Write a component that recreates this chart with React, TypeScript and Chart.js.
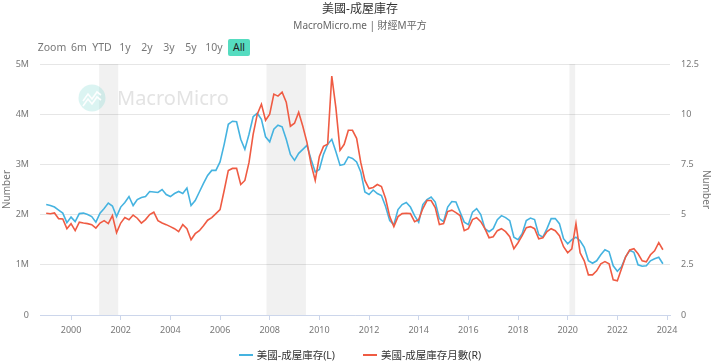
import React, { useEffect, useRef } from 'react';
import { Chart, registerables } from 'chart.js';

Chart.register(...registerables);

// Bimonthly observations starting Jan 1999 (Jan, Mar, May, Jul, Sep, Nov)
const START_YEAR = 1999;
const STEP_MONTHS = 2;

// 美國-成屋庫存 (millions of homes), left axis
const inventoryM: number[] = [
  2.20, 2.18, 2.15, 2.09, 2.03, 1.84,
  1.95, 1.86, 2.02, 2.03, 2.00, 1.96,
  1.85, 2.03, 2.12, 2.23, 2.17, 1.96,
  2.15, 2.24, 2.36, 2.18, 2.30, 2.34,
  2.36, 2.46, 2.45, 2.44, 2.50, 2.40,
  2.36, 2.42, 2.46, 2.42, 2.53, 2.18,
  2.28, 2.45, 2.62, 2.78, 2.88, 2.88,
  3.05, 3.40, 3.80, 3.86, 3.85, 3.50,
  3.30, 3.60, 3.95, 4.02, 3.90, 3.55,
  3.45, 3.70, 3.78, 3.75, 3.50, 3.20,
  3.08, 3.22, 3.30, 3.38, 3.10, 2.85,
  2.90, 3.20, 3.40, 3.50, 3.25, 2.98,
  3.00, 3.15, 3.12, 3.05, 2.85, 2.45,
  2.40, 2.49, 2.42, 2.38, 2.16, 1.88,
  1.80, 2.10, 2.20, 2.24, 2.15, 1.98,
  1.85, 2.20, 2.30, 2.35, 2.25, 1.92,
  1.86, 2.15, 2.26, 2.25, 2.05, 1.85,
  1.80, 2.05, 2.12, 2.00, 1.72, 1.66,
  1.72, 1.90, 1.98, 1.94, 1.88, 1.55,
  1.50, 1.62, 1.88, 1.93, 1.90, 1.60,
  1.55, 1.72, 1.92, 1.92, 1.82, 1.52,
  1.42, 1.50, 1.55, 1.48, 1.35, 1.08,
  1.03, 1.08, 1.20, 1.30, 1.26, 0.98,
  0.87, 0.96, 1.16, 1.29, 1.25, 1.00,
  0.97, 0.98, 1.08, 1.12, 1.15, 1.02,
];

// 美國-成屋庫存月數 (months of supply), right axis
const monthsSupply: number[] = [
  5.07, 5.04, 5.08, 4.80, 4.78, 4.30,
  4.55, 4.20, 4.62, 4.58, 4.55, 4.50,
  4.33, 4.58, 4.70, 4.55, 4.95, 4.10,
  4.58, 4.85, 4.74, 4.98, 4.82, 4.58,
  4.75, 5.00, 5.12, 4.70, 4.58, 4.50,
  4.40, 4.30, 4.15, 4.50, 4.30, 3.75,
  4.05, 4.20, 4.45, 4.72, 4.85, 5.05,
  5.25, 6.20, 7.20, 7.30, 7.30, 6.50,
  6.70, 7.60, 9.00, 10.00, 10.50, 9.70,
  10.00, 11.00, 10.90, 11.10, 10.60, 9.40,
  9.55, 10.10, 9.40, 8.60, 7.50, 6.70,
  7.90, 8.40, 8.50, 11.90, 10.30, 8.20,
  8.50, 9.20, 9.20, 8.80, 7.60, 6.70,
  6.30, 6.35, 6.50, 6.40, 5.80, 4.90,
  4.40, 4.90, 5.05, 5.07, 5.05, 4.65,
  4.75, 5.30, 5.70, 5.70, 5.35, 4.50,
  4.55, 5.15, 5.22, 5.10, 4.95, 4.20,
  4.30, 4.75, 4.85, 4.65, 4.30, 3.85,
  3.90, 4.20, 4.30, 4.15, 3.90, 3.30,
  3.60, 3.95, 4.35, 4.40, 4.30, 3.80,
  3.85, 4.15, 4.30, 4.20, 3.95, 3.40,
  3.10, 3.30, 4.55, 3.10, 2.70, 2.00,
  2.00, 2.20, 2.55, 2.66, 2.55, 1.75,
  1.70, 2.30, 2.90, 3.24, 3.30, 3.05,
  2.70, 2.65, 3.00, 3.20, 3.60, 3.25,
];

const xTickYears: number[] = [2000, 2002, 2004, 2006, 2008, 2010, 2012, 2014, 2016, 2018, 2020, 2022, 2024];
const leftTicks: number[] = [0, 1, 2, 3, 4, 5];
const rightTicks: number[] = [0, 2.5, 5, 7.5, 10, 12.5];
const recessions: [number, number][] = [
  [2001.13, 2001.9],
  [2007.87, 2009.46],
  [2020.07, 2020.3],
];
const rangeButtons: string[] = ['6m', 'YTD', '1y', '2y', '3y', '5y', '10y'];

const BLUE = '#45b3e0';
const RED = '#ef5b43';
const FONT = "'Noto Sans', 'Noto Sans CJK TC', sans-serif";

const toPoints = (vals: number[]) =>
  vals.map((v, i) => ({ x: START_YEAR + (i * STEP_MONTHS) / 12, y: v }));

const bgPlugin = {
  id: 'bgDecor',
  beforeDatasetsDraw(chart: any) {
    const { ctx, chartArea, scales } = chart;
    const xs = scales.x;
    ctx.save();
    ctx.fillStyle = 'rgba(0,0,0,0.055)';
    recessions.forEach(([a, b]) => {
      const x1 = xs.getPixelForValue(a);
      const x2 = xs.getPixelForValue(b);
      ctx.fillRect(x1, chartArea.top, x2 - x1, chartArea.bottom - chartArea.top);
    });
    // watermark
    ctx.fillStyle = 'rgba(90,205,195,0.22)';
    ctx.beginPath();
    ctx.arc(92, 98, 13.5, 0, Math.PI * 2);
    ctx.fill();
    ctx.strokeStyle = 'rgba(255,255,255,0.95)';
    ctx.lineWidth = 1.6;
    ctx.beginPath();
    ctx.moveTo(83, 101); ctx.lineTo(88, 94); ctx.lineTo(92, 99); ctx.lineTo(97, 92); ctx.lineTo(101, 95);
    ctx.stroke();
    ctx.beginPath();
    ctx.moveTo(83, 106); ctx.lineTo(88, 99); ctx.lineTo(92, 104); ctx.lineTo(97, 97); ctx.lineTo(101, 100);
    ctx.stroke();
    ctx.fillStyle = 'rgba(200,200,200,0.5)';
    ctx.font = "20px 'Noto Sans', sans-serif";
    ctx.textBaseline = 'middle';
    ctx.textAlign = 'left';
    ctx.fillText('MacroMicro', 117, 99);
    ctx.restore();
  },
};

function App() {
  const canvasRef = useRef<HTMLCanvasElement | null>(null);

  useEffect(() => {
    if (!canvasRef.current) return;
    const chart = new Chart(canvasRef.current, {
      type: 'line',
      data: {
        datasets: [
          {
            label: '美國-成屋庫存(L)',
            data: toPoints(inventoryM),
            borderColor: BLUE,
            backgroundColor: BLUE,
            borderWidth: 1.6,
            pointRadius: 0,
            tension: 0,
            yAxisID: 'y',
            order: 2,
          },
          {
            label: '美國-成屋庫存月數(R)',
            data: toPoints(monthsSupply),
            borderColor: RED,
            backgroundColor: RED,
            borderWidth: 1.6,
            pointRadius: 0,
            tension: 0,
            yAxisID: 'y1',
            order: 1,
          },
        ],
      },
      options: {
        responsive: false,
        animation: false,
        devicePixelRatio: 1,
        layout: { padding: { top: 64, left: 0, right: 0, bottom: 0 } },
        plugins: {
          legend: { display: false },
          title: { display: false },
          tooltip: { enabled: false },
        },
        scales: {
          x: {
            type: 'linear',
            min: 1998.75,
            max: 2024.12,
            afterBuildTicks: (s: any) => {
              s.ticks = xTickYears.map((v) => ({ value: v }));
            },
            afterFit: (s: any) => {
              s.height = 49;
            },
            grid: {
              drawOnChartArea: false,
              drawTicks: true,
              tickLength: 5,
              color: '#ccd6eb',
            },
            border: { display: true, color: '#ccd6eb' },
            ticks: {
              autoSkip: false,
              maxRotation: 0,
              padding: 5,
              color: '#777',
              font: { family: FONT, size: 9 },
              callback: (v: any) => String(v),
            },
          },
          y: {
            position: 'left',
            min: 0,
            max: 5,
            afterBuildTicks: (s: any) => {
              s.ticks = leftTicks.map((v) => ({ value: v }));
            },
            afterFit: (s: any) => {
              s.width = 40;
            },
            grid: { color: '#e6e6e6', drawTicks: false },
            border: { display: false },
            ticks: {
              padding: 11,
              color: '#777',
              font: { family: FONT, size: 9 },
              callback: (v: any) => (v === 0 ? '0' : `${v}M`),
            },
            title: {
              display: true,
              text: 'Number',
              color: '#777',
              font: { family: FONT, size: 10 },
              padding: 1,
            },
          },
          y1: {
            position: 'right',
            min: 0,
            max: 12.5,
            afterBuildTicks: (s: any) => {
              s.ticks = rightTicks.map((v) => ({ value: v }));
            },
            afterFit: (s: any) => {
              s.width = 50;
            },
            grid: { drawOnChartArea: false, drawTicks: false },
            border: { display: false },
            ticks: {
              padding: 11,
              color: '#777',
              font: { family: FONT, size: 9 },
              callback: (v: any) => String(v),
            },
            title: {
              display: true,
              text: 'Number',
              color: '#777',
              font: { family: FONT, size: 10 },
              padding: 8,
            },
          },
        },
      },
      plugins: [bgPlugin],
    });
    return () => chart.destroy();
  }, []);

  const btnX = [79, 102, 125, 147, 169, 191, 214];

  return (
    <div
      style={{
        position: 'fixed',
        left: 0,
        top: 0,
        width: 720,
        height: 364,
        background: '#fff',
        fontFamily: FONT,
        overflow: 'hidden',
      }}
    >
      <canvas
        ref={canvasRef}
        width={720}
        height={364}
        style={{ position: 'absolute', left: 0, top: 0, width: 720, height: 364 }}
      />
      <div
        style={{
          position: 'absolute', left: 0, width: 720, top: 0, textAlign: 'center',
          fontSize: 12, color: '#333', lineHeight: '18px',
        }}
      >
        美國-成屋庫存
      </div>
      <div
        style={{
          position: 'absolute', left: 0, width: 720, top: 17, textAlign: 'center',
          fontSize: 10, color: '#666', lineHeight: '16px',
        }}
      >
        MacroMicro.me | 財經M平方
      </div>
      <span
        style={{
          position: 'absolute', left: 52, top: 47, transform: 'translate(-50%,-50%)',
          fontSize: 10.5, color: '#777', whiteSpace: 'nowrap',
        }}
      >
        Zoom
      </span>
      {rangeButtons.map((b, i) => (
        <span
          key={b}
          style={{
            position: 'absolute', left: btnX[i], top: 47, transform: 'translate(-50%,-50%)',
            fontSize: 10.5, color: '#777', whiteSpace: 'nowrap',
          }}
        >
          {b}
        </span>
      ))}
      <div
        style={{
          position: 'absolute', left: 228, top: 39, width: 22, height: 17,
          background: '#55dcc0', borderRadius: 2, fontSize: 10.5, color: '#222',
          textAlign: 'center', lineHeight: '17px',
        }}
      >
        All
      </div>
      <div
        style={{
          position: 'absolute', left: 0, width: 720, top: 347, display: 'flex',
          justifyContent: 'center', alignItems: 'center', fontSize: 10.5, color: '#333',
        }}
      >
        <span style={{ display: 'inline-block', width: 14, height: 2, background: BLUE, marginRight: 4 }} />
        <span style={{ marginRight: 28 }}>美國-成屋庫存(L)</span>
        <span style={{ display: 'inline-block', width: 14, height: 2, background: RED, marginRight: 4 }} />
        <span>美國-成屋庫存月數(R)</span>
      </div>
    </div>
  );
}

export default App;
